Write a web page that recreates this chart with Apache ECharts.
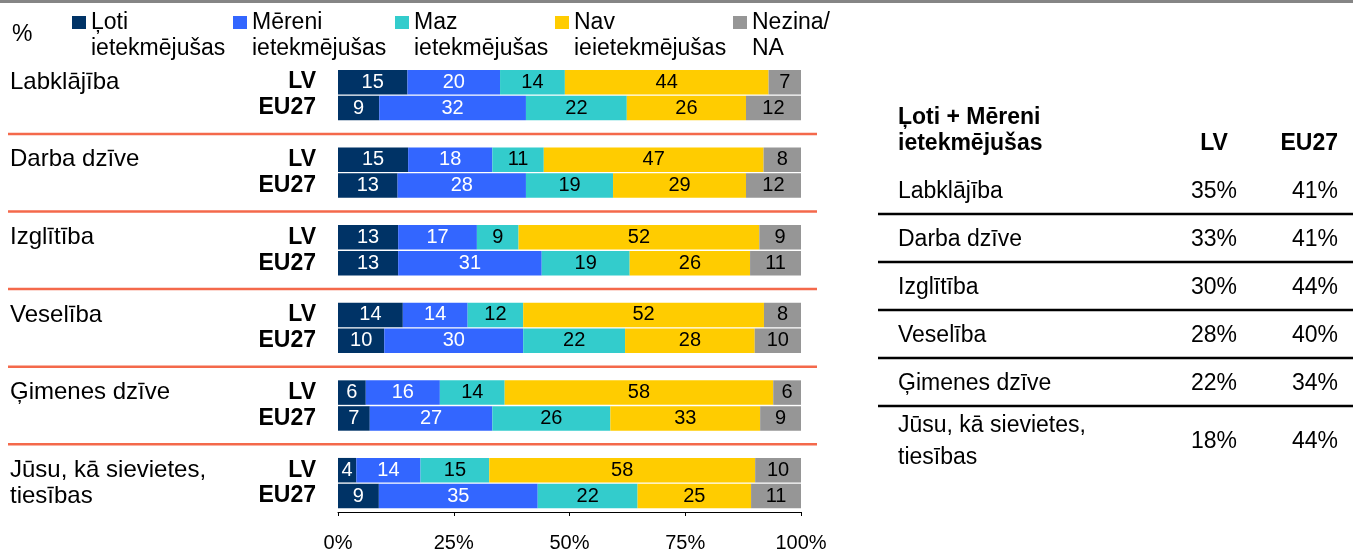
<!DOCTYPE html>
<html>
<head>
<meta charset="utf-8">
<title>Ietekme</title>
<script src="https://cdn.jsdelivr.net/npm/echarts@6/dist/echarts.min.js"></script>
<style>
html, body { margin: 0; padding: 0; background: #fff; }
#container { width: 1353px; height: 553px; }
</style>
</head>
<body>
<div id="container"></div>
<script>
var dom = document.getElementById('container');
var myChart = echarts.init(dom, null, { renderer: 'canvas' });
var FONT = '"Liberation Sans", Arial, Helvetica, sans-serif';

// dati
var categories = ['Labklājība', 'Darba dzīve', 'Izglītība', 'Veselība', 'Ģimenes dzīve', 'Jūsu, kā sievietes,\ntiesības'];
var groups = ['LV', 'EU27'];
var seriesNames = ['Ļoti\nietekmējušas', 'Mēreni\nietekmējušas', 'Maz\nietekmējušas', 'Nav\nieietekmējušas', 'Nezina/\nNA'];

var lotiLV   = [15, 15, 13, 14, 6, 4];
var lotiEU   = [9, 13, 13, 10, 7, 9];
var mereniLV = [20, 18, 17, 14, 16, 14];
var mereniEU = [32, 28, 31, 30, 27, 35];
var mazLV    = [14, 11, 9, 12, 14, 15];
var mazEU    = [22, 19, 19, 22, 26, 22];
var navLV    = [44, 47, 52, 52, 58, 58];
var navEU    = [26, 29, 26, 28, 33, 25];
var nezinaLV = [7, 8, 9, 8, 6, 10];
var nezinaEU = [12, 12, 11, 10, 9, 11];

var tableTitle = 'Ļoti + Mēreni\nietekmējušas';
var tableLV = [35, 33, 30, 28, 22, 18];
var tableEU = [41, 41, 44, 40, 34, 44];
var xTickLabels = ['0%', '25%', '50%', '75%', '100%'];

var valuesLV = [lotiLV, mereniLV, mazLV, navLV, nezinaLV];
var valuesEU = [lotiEU, mereniEU, mazEU, navEU, nezinaEU];
var seriesColors = ['#003366', '#3366FF', '#33CCCC', '#FFCC00', '#969696'];
var labelColors = ['#ffffff', '#ffffff', '#000000', '#000000', '#000000'];
var legendLeft = [72, 233, 395, 555, 733];

// rindas: LV, EU27 un tukša rinda starp grupām
var rowKeys = [];
categories.forEach(function (c, i) {
    groups.forEach(function (g) { rowKeys.push(i + '|' + g); });
    if (i < categories.length - 1) rowKeys.push(i + '|gap');
});

function rowValues(key) {
    var p = key.split('|');
    if (p[1] === 'gap') return null;
    var src = p[1] === 'LV' ? valuesLV : valuesEU;
    return src.map(function (arr) { return arr[+p[0]]; });
}

var series = seriesNames.map(function (name, s) {
    return {
        name: name,
        type: 'bar',
        stack: 'total',
        barWidth: 24.5,
        itemStyle: { color: seriesColors[s] },
        label: {
            show: true,
            position: 'inside',
            color: labelColors[s],
            fontSize: 20,
            fontFamily: FONT,
            formatter: function (p) { return p.data.raw; }
        },
        data: rowKeys.map(function (k) {
            var v = rowValues(k);
            if (!v) return '-';
            // noapaļotās vērtības ne vienmēr dod 100, tāpēc josla = daļa no rindas summas
            var sum = v.reduce(function (a, b) { return a + b; }, 0);
            return { value: v[s] * 100 / sum, raw: v[s] };
        })
    };
});

var legends = seriesNames.map(function (name, i) {
    return {
        data: [name],
        left: legendLeft[i],
        top: -15,
        padding: 0,
        icon: 'rect',
        itemWidth: 14,
        itemHeight: 13,
        selectedMode: false,
        formatter: function (n) { return '{gap| }\n{t|' + n + '}'; },
        textStyle: {
            rich: {
                gap: { fontSize: 23, lineHeight: 26, fontFamily: FONT },
                t: { fontSize: 23, lineHeight: 26, color: '#000', fontFamily: FONT }
            }
        }
    };
});

var option = {
    animation: false,
    textStyle: { fontFamily: FONT },
    legend: legends,
    grid: { left: 338, right: 552, top: 69.2, bottom: 36.9 },
    xAxis: {
        type: 'value',
        min: 0,
        max: 100,
        interval: 25,
        offset: 3,
        splitLine: { show: false },
        axisLine: { show: true, lineStyle: { color: '#000', width: 1 } },
        axisTick: { show: true, length: 4, lineStyle: { color: '#000' } },
        axisLabel: {
            margin: 21,
            color: '#000',
            fontSize: 20,
            fontFamily: FONT,
            formatter: function (v) { return xTickLabels[v / 25]; }
        }
    },
    yAxis: {
        type: 'category',
        inverse: true,
        data: rowKeys,
        axisLine: { show: false },
        axisTick: { show: false },
        axisLabel: {
            interval: 0,
            margin: 22,
            formatter: function (k) {
                var p = k.split('|');
                if (p[1] === 'gap') return '';
                var lines = categories[+p[0]].split('\n');
                var txt = p[1] === 'LV' ? lines[0] : (lines[1] || '');
                return '{n|' + txt + '}{g|' + p[1] + '}';
            },
            rich: {
                n: { width: 240, align: 'left', fontSize: 24, color: '#000', fontFamily: FONT },
                g: { width: 66, align: 'right', fontSize: 23, fontWeight: 'bold', color: '#000', fontFamily: FONT }
            }
        }
    },
    series: series
};

myChart.setOption(option);

function txt(text, x, y, align, bold, lineHeight) {
    return {
        type: 'text',
        x: x,
        y: y,
        silent: true,
        style: {
            text: text,
            fill: '#000',
            font: (bold ? 'bold ' : '') + '23px ' + FONT,
            lineHeight: lineHeight || 26,
            align: align, textAlign: align,
            verticalAlign: 'middle', textVerticalAlign: 'middle'
        }
    };
}

var graphics = [];
graphics.push({ type: 'rect', shape: { x: 0, y: 0, width: 1353, height: 3 }, style: { fill: '#858585' }, silent: true });
graphics.push(txt('%', 12, 35, 'left', false));

// sarkanās atdalītājlīnijas tukšajās rindās
categories.slice(0, -1).forEach(function (c, i) {
    var y = myChart.convertToPixel({ yAxisIndex: 0 }, i + '|gap');
    graphics.push({
        type: 'line', silent: true,
        shape: { x1: 8, y1: y, x2: 817, y2: y },
        style: { stroke: '#F4694B', lineWidth: 2.5 }
    });
});

// tabula labajā pusē
var tabX = 898, colLV = 1237, colEU = 1338;
graphics.push(txt(tableTitle, tabX, 131, 'left', true, 26));
graphics.push(txt(groups[0], 1214, 144, 'center', true));
graphics.push(txt(groups[1], colEU, 144, 'right', true));
var rowTop = 166;
categories.forEach(function (c, i) {
    var h = c.indexOf('\n') >= 0 ? 68 : 48;
    var cy = rowTop + h / 2 + 2;
    graphics.push(txt(c, tabX, cy, 'left', false, 32));
    graphics.push(txt(tableLV[i] + '%', colLV, cy, 'right', false));
    graphics.push(txt(tableEU[i] + '%', colEU, cy, 'right', false));
    rowTop += h;
    if (i < categories.length - 1) {
        graphics.push({
            type: 'line', silent: true,
            shape: { x1: 878, y1: rowTop, x2: 1353, y2: rowTop },
            style: { stroke: '#000', lineWidth: 2.5 }
        });
    }
});

myChart.setOption({ graphic: graphics });

window.addEventListener('resize', function () {
    myChart.resize();
});
</script>
</body>
</html>
